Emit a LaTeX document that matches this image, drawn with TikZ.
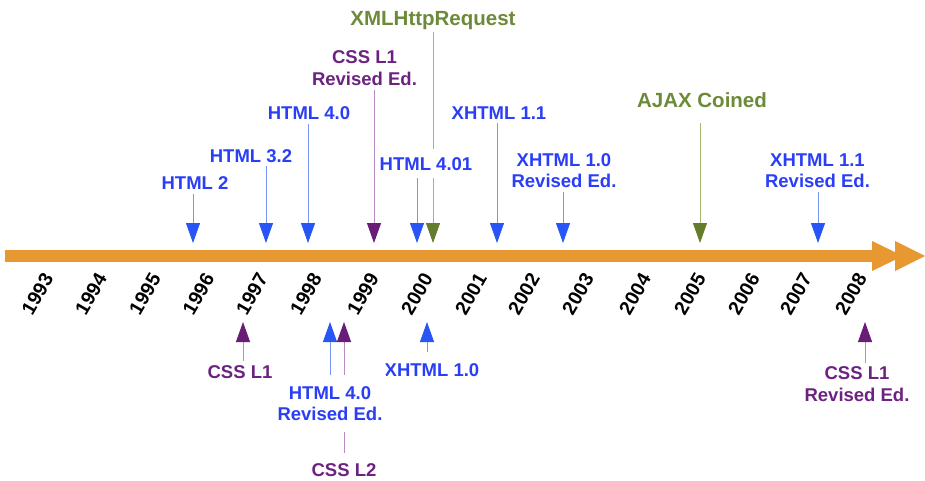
\documentclass[tikz,border=0pt]{standalone}
\usepackage{fontspec}
\setmainfont{Liberation Sans}
\usetikzlibrary{arrows.meta}
\definecolor{bluetxt}{RGB}{42,62,245}
\definecolor{bluetri}{RGB}{40,85,245}
\definecolor{blueln}{RGB}{120,150,245}
\definecolor{purtxt}{RGB}{108,34,128}
\definecolor{purtri}{RGB}{105,28,120}
\definecolor{purln}{RGB}{185,140,195}
\definecolor{grntxt}{RGB}{108,138,58}
\definecolor{grntri}{RGB}{100,125,45}
\definecolor{grnln}{RGB}{165,185,110}
\definecolor{axisorange}{RGB}{232,152,48}
\begin{document}
\begin{tikzpicture}[x=1pt,y=-1pt,
  lbl/.style={font=\fontsize{18.5}{21.5}\selectfont\bfseries, inner sep=4pt, align=center},
  bluelbl/.style={lbl,text=bluetxt},
  purlbl/.style={lbl,text=purtxt},
  grnlbl/.style={lbl,text=grntxt,font=\fontsize{20.5}{24}\selectfont\bfseries},
  cover/.style={fill=white},
  bluearr/.style={draw=blueln,line width=0.9pt,-{Triangle[length=20pt,width=14pt,color=bluetri]}},
  purarr/.style={draw=purln,line width=0.9pt,-{Triangle[length=20pt,width=14pt,color=purtri]}},
  grnarr/.style={draw=grnln,line width=0.9pt,-{Triangle[length=20pt,width=14pt,color=grntri]}},
  year/.style={font=\fontsize{19.5}{21}\selectfont\bfseries, rotate=60, inner sep=0pt}
]
\useasboundingbox (0,0) rectangle (925,480);

% axis
\fill[axisorange] (5,250) rectangle (878,262);
\fill[axisorange] (872,241) -- (903,256) -- (872,271) -- cycle;
\fill[axisorange] (895,241) -- (925,256) -- (895,271) -- cycle;

% years
\foreach \yr/\xx in {1993/37.5,1994/91,1995/145,1996/198.5,1997/252,1998/306,1999/363,2000/417,
  2001/471,2002/524,2003/578,2004/635,2005/690,2006/744,2007/796,2008/851}
  \node[year] (y\yr) at (\xx,294) {\yr};

% tip coordinates
\coordinate (tHtmlTwo) at (193,243);
\coordinate (tHtmlThreeTwo) at (266,243);
\coordinate (tHtmlFour) at (308,243);
\coordinate (tCssOneRev) at (374,243);
\coordinate (tHtmlFourOne) at (417,243);
\coordinate (tXhr) at (433,243);
\coordinate (tXhtmlOneOne) at (497,243);
\coordinate (tXhtmlOneRev) at (563,243);
\coordinate (tAjax) at (700,243);
\coordinate (tXhtmlOneOneRev) at (818,243);
\coordinate (tCssOne) at (243,322);
\coordinate (tHtmlFourRev) at (330,322);
\coordinate (tCssTwo) at (344,322);
\coordinate (tXhtmlOne) at (427,322);
\coordinate (tCssOneRevB) at (865,322);

% labels (top)
\node[bluelbl, anchor=base] (lHtmlTwo) at (195,189.5) {HTML 2};
\node[bluelbl, anchor=base] (lHtmlThreeTwo) at (251,162) {HTML 3.2};
\node[bluelbl, anchor=base] (lHtmlFour) at (309,119.5) {HTML 4.0};
\node[purlbl] (lCssOneRev) at (364.5,68) {CSS L1\\Revised Ed.};
\node[grnlbl, anchor=base, inner ysep=3pt] (lXhr) at (433,25) {XMLHttpRequest};
\node[bluelbl, anchor=base] (lXhtmlOneOne) at (499,119) {XHTML 1.1};
\node[bluelbl] (lXhtmlOneRev) at (564,170.5) {XHTML 1.0\\Revised Ed.};
\node[grnlbl, anchor=base, inner ysep=15pt] (lAjax) at (702,107.3) {AJAX Coined};
\node[bluelbl] (lXhtmlOneOneRev) at (817.5,170.5) {XHTML 1.1\\Revised Ed.};

% labels (bottom)
\node[purlbl, anchor=base] (lCssOne) at (240,378.5) {CSS L1};
\node[purlbl, anchor=base, inner ysep=10.5pt] (lCssTwo) at (344,476.5) {CSS L2};
\node[bluelbl, anchor=base, inner ysep=11pt] (lXhtmlOne) at (432,376.5) {XHTML 1.0};
\node[purlbl] (lCssOneRevB) at (857,384) {CSS L1\\Revised Ed.};

% connectors passing behind other labels
\draw[grnarr] (tXhr |- lXhr.south) -- (tXhr);
\draw[purarr] (tCssTwo |- lCssTwo.north) -- (tCssTwo);

% covering labels
\node[bluelbl, cover, anchor=base, inner ysep=8pt] (lHtmlFourOne) at (426,170) {HTML 4.01};
\node[bluelbl, cover, inner ysep=11pt] (lHtmlFourRev) at (330,403.5) {HTML 4.0\\Revised Ed.};

% connectors (top)
\draw[bluearr] (tHtmlTwo |- lHtmlTwo.south) -- (tHtmlTwo);
\draw[bluearr] (tHtmlThreeTwo |- lHtmlThreeTwo.south) -- (tHtmlThreeTwo);
\draw[bluearr] (tHtmlFour |- lHtmlFour.south) -- (tHtmlFour);
\draw[purarr] (tCssOneRev |- lCssOneRev.south) -- (tCssOneRev);
\draw[bluearr] (tHtmlFourOne |- lHtmlFourOne.south) -- (tHtmlFourOne);
\draw[bluearr] (tXhtmlOneOne |- lXhtmlOneOne.south) -- (tXhtmlOneOne);
\draw[bluearr] (tXhtmlOneRev |- lXhtmlOneRev.south) -- (tXhtmlOneRev);
\draw[grnarr] (tAjax |- lAjax.south) -- (tAjax);
\draw[bluearr] (tXhtmlOneOneRev |- lXhtmlOneOneRev.south) -- (tXhtmlOneOneRev);

% connectors (bottom)
\draw[purarr] (tCssOne |- lCssOne.north) -- (tCssOne);
\draw[bluearr] (tHtmlFourRev |- lHtmlFourRev.north) -- (tHtmlFourRev);
\draw[bluearr] (tXhtmlOne |- lXhtmlOne.north) -- (tXhtmlOne);
\draw[purarr] (tCssOneRevB |- lCssOneRevB.north) -- (tCssOneRevB);
\end{tikzpicture}
\end{document}
